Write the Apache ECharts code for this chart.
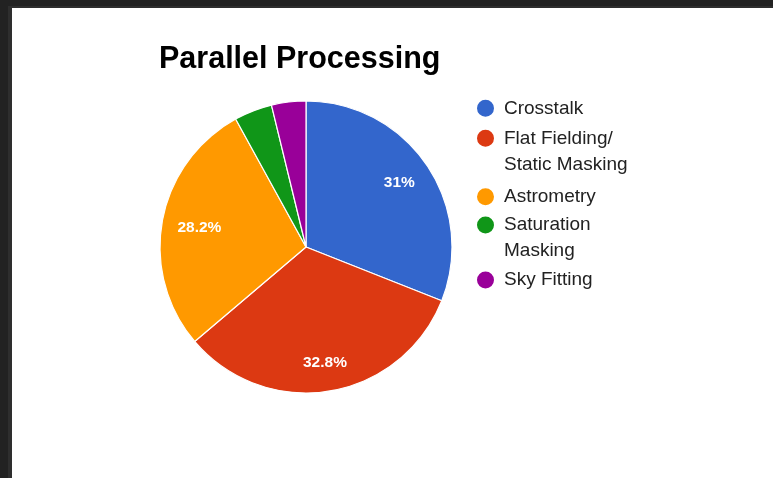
<!DOCTYPE html>
<html>
<head>
<meta charset="utf-8">
<script src="https://cdn.jsdelivr.net/npm/echarts@6/dist/echarts.min.js"></script>
<style>
  html, body { margin: 0; padding: 0; background: #ffffff; }
  #chart { position: absolute; left: 0; top: 0; width: 773px; height: 478px; background: #ffffff; }
  /* dark window frame along the top and left edges */
  .frame { position: absolute; pointer-events: none; z-index: 5; }
  #frameTop { left: 0; top: 0; width: 773px; height: 6px; background: #222222; }
  #frameTopInner { left: 8px; top: 6px; width: 765px; height: 2px; background: #2e2e2e; }
  #frameLeft { left: 0; top: 0; width: 8px; height: 478px; background: #222222; }
  #frameLeftInner { left: 8px; top: 6px; width: 4px; height: 472px; background: #2e2e2e; }
</style>
</head>
<body>
<div id="chart"></div>
<div class="frame" id="frameTop"></div>
<div class="frame" id="frameTopInner"></div>
<div class="frame" id="frameLeft"></div>
<div class="frame" id="frameLeftInner"></div>
<script>
// Share of time spent in each parallel processing step (percent)
const categories = ['Crosstalk', 'Flat Fielding/ Static Masking', 'Astrometry', 'Saturation Masking', 'Sky Fitting'];
const shares = [31.0, 32.8, 28.2, 4.2, 3.8];
const legendLabels = ['Crosstalk', 'Flat Fielding/\nStatic Masking', 'Astrometry', 'Saturation\nMasking', 'Sky Fitting'];
const sliceColors = ['#3366cc', '#dc3912', '#ff9900', '#109618', '#990099'];

const FONT = '"Liberation Sans", Arial, Helvetica, sans-serif';
const center = [306, 247];
const outerR = 146;

const pieData = categories.map((name, i) => ({
  name: name,
  value: shares[i],
  itemStyle: { color: sliceColors[i] }
}));

// small nudges so each percentage sits comfortably inside its slice
const labelNudge = { 0: [-3, 1], 1: [0, 1], 2: [8, 2] };

// One legend block per entry so wrapped names keep the dot beside their first line.
// A wrapped name gets an empty leading line, so the centred text block puts its
// first real line level with the dot.
const legendCenters = [108.3, 138.3, 196.7, 225, 280];
const LINE_H = 26;
const legends = categories.map((name, i) => {
  const lines = legendLabels[i].split('\n');
  const shown = lines.length > 1 ? '\n' + legendLabels[i] : legendLabels[i];
  const total = lines.length > 1 ? lines.length * 2 - 1 : 1;
  return {
    data: [name],
    orient: 'vertical',
    left: 475,
    top: legendCenters[i] - (total * LINE_H) / 2,
    padding: 0,
    icon: 'circle',
    itemWidth: 27,
    itemHeight: 19,
    selectedMode: false,
    formatter: () => shown,
    textStyle: {
      fontFamily: FONT,
      fontSize: 19,
      color: '#222222',
      lineHeight: LINE_H
    }
  };
});

const chart = echarts.init(document.getElementById('chart'), null, { renderer: 'canvas' });
chart.setOption({
  animation: false,
  backgroundColor: '#ffffff',
  title: {
    text: 'Parallel Processing',
    left: 159,
    top: 44,
    padding: 0,
    textStyle: { fontFamily: FONT, fontSize: 30.5, fontWeight: 'bold', color: '#000000' }
  },
  legend: legends,
  series: [
    {
      type: 'pie',
      center: center,
      radius: [0, outerR],
      startAngle: 90,
      clockwise: true,
      data: pieData,
      label: { show: false },
      labelLine: { show: false },
      itemStyle: { borderColor: '#ffffff', borderWidth: 1.2 },
      emphasis: { disabled: true }
    },
    {
      // transparent ring that only carries the percentage labels
      type: 'pie',
      center: center,
      radius: [81, outerR],
      startAngle: 90,
      clockwise: true,
      silent: true,
      data: categories.map((name, i) => ({
        name: name,
        value: shares[i],
        label: labelNudge[i] ? { offset: labelNudge[i] } : undefined
      })),
      itemStyle: { color: 'rgba(0,0,0,0)', borderWidth: 0 },
      label: {
        show: true,
        position: 'inside',
        fontFamily: FONT,
        fontSize: 15.5,
        fontWeight: 'bold',
        color: '#ffffff',
        formatter: (p) => (p.value >= 10 ? p.value + '%' : '')
      },
      labelLine: { show: false },
      emphasis: { disabled: true }
    }
  ]
});
</script>
</body>
</html>
